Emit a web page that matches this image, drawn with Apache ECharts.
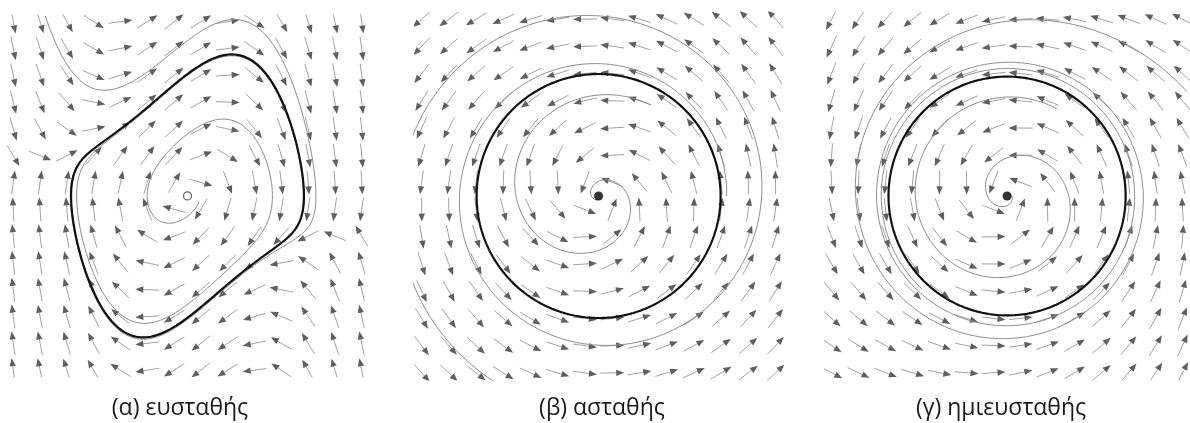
<!DOCTYPE html>
<html>
<head>
<meta charset="utf-8">
<script src="https://cdn.jsdelivr.net/npm/echarts/dist/echarts.min.js"></script>
<style>
  html, body { margin: 0; padding: 0; background: #fff; }
  #chart { width: 1190px; height: 423px; }
</style>
</head>
<body>
<div id="chart"></div>
<script>
// Captions under the three phase portraits
const panelLabels = ['(α) ευσταθής', '(β) ασταθής', '(γ) ημιευσταθής'];

// (α) Van der Pol oscillator: x' = y, y' = mu (1 - x^2) y - x
const vdpMu = [0.75];
// (β) unstable cycle, polar form: theta' = 1, r'/r = k (r^2 - 1) / (1 + m r^4)
const unstableCoef = [0.455, 1.53];
// (γ) semi-stable cycle: theta' = 1, r'/r = -k (r^2 - 1)^2 / (1 + m r^4)
const semiCoef = [0.47, 0.84];

// Arrow lattices: [min, max, count] (same on both axes)
const latticeA = [-3, 3, 14];
const latticeB = [-1.45, 1.45, 14];
const latticeC = [-1.48, 1.48, 14];

// Trajectory starting states and integration times
const startsA = [[-2.45, 3.1], [0.2, -0.1]];
const timesA = [14, 19];
const startsB = [[0.43, 0.745], [1.05, 0.0]];
const timesB = [40, 30];
const startsC = [[0.42, 0.73], [1.516, 0.875]];
const timesC = [40, 16];

// ---- vector fields ----
function fieldA(x, y) {
  const mu = vdpMu[0];
  return [y, mu * (1 - x * x) * y - x];
}
function fieldB(x, y) {
  const r2 = x * x + y * y;
  const g = unstableCoef[0] * (r2 - 1) / (1 + unstableCoef[1] * r2 * r2);
  return [-y + g * x, x + g * y];
}
function fieldC(x, y) {
  const r2 = x * x + y * y;
  const g = -semiCoef[0] * (r2 - 1) * (r2 - 1) / (1 + semiCoef[1] * r2 * r2);
  return [-y + g * x, x + g * y];
}

// RK4 integration of a planar system
function integrate(f, p0, tMax, dt, stop) {
  let p = p0.slice();
  const out = [p.slice()];
  for (let t = 0; t < tMax; t += dt) {
    const k1 = f(p[0], p[1]);
    const k2 = f(p[0] + dt / 2 * k1[0], p[1] + dt / 2 * k1[1]);
    const k3 = f(p[0] + dt / 2 * k2[0], p[1] + dt / 2 * k2[1]);
    const k4 = f(p[0] + dt * k3[0], p[1] + dt * k3[1]);
    p = [p[0] + dt / 6 * (k1[0] + 2 * k2[0] + 2 * k3[0] + k4[0]),
         p[1] + dt / 6 * (k1[1] + 2 * k2[1] + 2 * k3[1] + k4[1])];
    out.push(p.slice());
    if (stop && stop(p)) break;
  }
  return out;
}

// ---- layout of the three panels (pixel centre, pixels per unit) ----
const panels = [
  { cx: 187.5, cy: 195.9, s: 58.07, lattice: latticeA, field: fieldA },
  { cx: 598.6, cy: 196.0, s: 122.0, lattice: latticeB, field: fieldB },
  { cx: 1008.35, cy: 196.0, s: 119.4, lattice: latticeC, field: fieldC }
];
const clipPadPx = 7.5;

const grids = [], xAxes = [], yAxes = [], series = [];

panels.forEach((p, i) => {
  const half = p.lattice[1] + clipPadPx / p.s;
  grids.push({
    left: p.cx - half * p.s, top: p.cy - half * p.s,
    width: 2 * half * p.s, height: 2 * half * p.s,
    containLabel: false
  });
  xAxes.push({ gridIndex: i, type: 'value', min: -half, max: half, show: false });
  yAxes.push({ gridIndex: i, type: 'value', min: -half, max: half, show: false });

  // arrow lattice
  const pts = [];
  const [lo, hi, n] = p.lattice;
  for (let a = 0; a < n; a++) {
    for (let b = 0; b < n; b++) {
      pts.push([lo + (hi - lo) * a / (n - 1), lo + (hi - lo) * b / (n - 1)]);
    }
  }
  const field = p.field;
  series.push({
    type: 'custom', xAxisIndex: i, yAxisIndex: i, coordinateSystem: 'cartesian2d',
    data: pts, clip: true, silent: true, z: 2,
    renderItem(params, api) {
      const x = api.value(0), y = api.value(1);
      const v = field(x, y);
      const vn = Math.hypot(v[0], v[1]) || 1;
      const c = api.coord([x, y]);
      const c2 = api.coord([x + v[0] / vn * 0.01, y + v[1] / vn * 0.01]);
      let dx = c2[0] - c[0], dy = c2[1] - c[1];
      const n2 = Math.hypot(dx, dy) || 1;
      dx /= n2; dy /= n2;
      const L = 24, H = 8, W = 3.2;
      const tail = [c[0] - dx * L / 2, c[1] - dy * L / 2];
      const tip = [c[0] + dx * L / 2, c[1] + dy * L / 2];
      const base = [tip[0] - dx * H, tip[1] - dy * H];
      return {
        type: 'group',
        children: [
          { type: 'line', shape: { x1: tail[0], y1: tail[1], x2: base[0] + dx, y2: base[1] + dy },
            style: { stroke: '#a3a3a3', lineWidth: 1 } },
          { type: 'polygon',
            shape: { points: [tip, [base[0] - dy * W, base[1] + dx * W], [base[0] + dy * W, base[1] - dx * W]] },
            style: { fill: '#5f5f5f' } }
        ]
      };
    }
  });
});

// thin gray trajectories
function trajectory(i, data) {
  return {
    type: 'line', xAxisIndex: i, yAxisIndex: i, data: data, showSymbol: false,
    clip: true, silent: true, z: 3,
    lineStyle: { color: '#8c8c8c', width: 1 }
  };
}
// thick black limit cycle
function cycle(i, data) {
  return {
    type: 'line', xAxisIndex: i, yAxisIndex: i, data: data, showSymbol: false,
    clip: true, silent: true, z: 4,
    lineStyle: { color: '#111', width: 2.2 }
  };
}

// (α)
startsA.forEach((s, k) => series.push(trajectory(0, integrate(fieldA, s, timesA[k], 0.01))));
{
  const settled = integrate(fieldA, [2, 0], 60, 0.01);
  const p0 = settled[settled.length - 1];
  series.push(cycle(0, integrate(fieldA, p0, 7.2, 0.01)));
}
// (β)
series.push(trajectory(1, integrate(fieldB, startsB[0], timesB[0], 0.01, p => Math.hypot(p[0], p[1]) < 0.02)));
series.push(trajectory(1, integrate(fieldB, startsB[1], timesB[1], 0.01, p => Math.hypot(p[0], p[1]) > 1.8)));
series.push(cycle(1, integrate(fieldB, [1, 0], 6.4, 0.01)));
// (γ)
series.push(trajectory(2, integrate(fieldC, startsC[0], timesC[0], 0.01, p => Math.hypot(p[0], p[1]) < 0.02)));
series.push(trajectory(2, integrate(fieldC, startsC[1], timesC[1], 0.01)));
series.push(cycle(2, integrate(fieldC, [1, 0], 6.4, 0.01)));

// equilibrium points
series.push({
  type: 'scatter', xAxisIndex: 0, yAxisIndex: 0, data: [[0, 0]], symbolSize: 8, z: 5, silent: true,
  itemStyle: { color: '#fff', borderColor: '#444', borderWidth: 1.3 }
});
[1, 2].forEach(i => series.push({
  type: 'scatter', xAxisIndex: i, yAxisIndex: i, data: [[0, 0]], symbolSize: 9, z: 5, silent: true,
  itemStyle: { color: '#000' }
}));

const labelX = [180, 602, 1001];
const chart = echarts.init(document.getElementById('chart'), null, { renderer: 'canvas' });
chart.setOption({
  animation: false,
  backgroundColor: '#fff',
  grid: grids,
  xAxis: xAxes,
  yAxis: yAxes,
  series: series,
  graphic: panelLabels.map((t, i) => ({
    type: 'text', x: labelX[i], y: 408,
    style: { text: t, fill: '#1a1a1a', font: '23px "Open Sans"', textAlign: 'center', textVerticalAlign: 'middle' }
  }))
});
</script>
</body>
</html>
